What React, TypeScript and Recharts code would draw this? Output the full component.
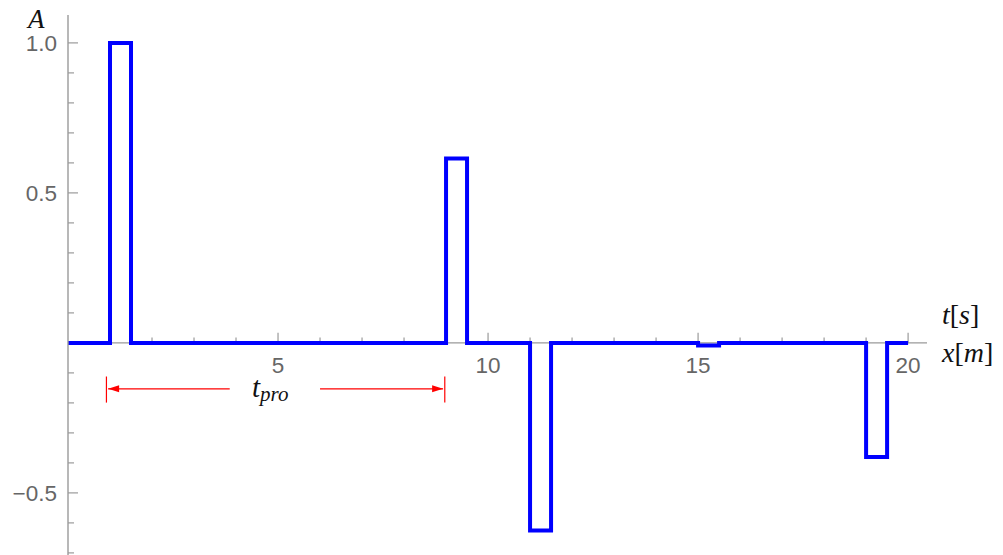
import { LineChart, Line, XAxis, YAxis, ReferenceLine } from "recharts";

// step edges (time in s) and amplitude holding from each edge to the next
const edgeTimes = [0, 1, 1.5, 9, 9.5, 11, 11.5, 15, 15.5, 19, 19.5, 20];
const amplitudes = [0, 1, 0, 0.615, 0, -0.625, 0, -0.009, 0, -0.38, 0, 0];

const yTicks = [-0.7, -0.6, -0.5, -0.4, -0.3, -0.2, -0.1, 0.1, 0.2, 0.3, 0.4, 0.5, 0.6, 0.7, 0.8, 0.9, 1.0];
const yLabels: Record<string, string> = { "1": "1.0", "0.5": "0.5", "-0.5": "\u22120.5" };
const xTicks = [1, 2, 3, 4, 5, 6, 7, 8, 9, 10, 11, 12, 13, 14, 15, 16, 17, 18, 19, 20];
const xMajor = [5, 10, 15, 20];

// t_pro dimension arrow
const proStart = 0.915;
const proEnd = 8.97;
const proGapLeft = 3.85;
const proGapRight = 6.0;
const proY = -0.153;
const proBarTop = -0.112;
const proBarBottom = -0.199;

const data = edgeTimes.map((t, i) => ({ t, a: amplitudes[i] }));

const AXIS = "#9a9a9a";
const LABEL = "#666666";
const BLUE = "#0000ff";
const RED = "#ff0000";
const W = 1003;
const H = 555;
const SANS = "Liberation Sans, Arial, sans-serif";

function YTick(props: any) {
  const { x, y, payload } = props;
  const key = String(Math.round(payload.value * 10) / 10);
  const label = yLabels[key];
  return (
    <g>
      <line x1={x} y1={y} x2={x + (label ? 10 : 6)} y2={y} stroke={AXIS} strokeWidth={1.2} />
      {label && (
        <text x={x - 11} y={y + 8} textAnchor="end" fontSize={22.5} fill={LABEL} fontFamily={SANS}>
          {label}
        </text>
      )}
    </g>
  );
}

function Arrow(props: any) {
  const { x1, y1, x2, y2, head } = props;
  const hx = head === "left" ? Math.min(x1, x2) : Math.max(x1, x2);
  const dir = head === "left" ? 1 : -1;
  const y = (y1 + y2) / 2;
  return (
    <g>
      <line x1={x1} y1={y} x2={x2} y2={y} stroke={RED} strokeWidth={1.2} />
      <polygon points={`${hx},${y} ${hx + dir * 11},${y - 3.5} ${hx + dir * 11},${y + 3.5}`} fill={RED} />
    </g>
  );
}

export default function App() {
  const serif = "Liberation Serif, Times New Roman, serif";
  return (
    <div style={{ position: "absolute", left: 0, top: 0, width: W, height: H, background: "#fff" }}>
      <LineChart width={W} height={H} data={data} margin={{ top: 15, right: 76, bottom: 0, left: 8 }}>
        <XAxis type="number" dataKey="t" domain={[0, 20.45]} allowDataOverflow hide />
        <YAxis
          type="number"
          domain={[-0.707, 1.093]}
          allowDataOverflow
          width={60}
          ticks={yTicks}
          interval={0}
          tickSize={0}
          tickMargin={0}
          tickLine={false}
          axisLine={{ stroke: AXIS, strokeWidth: 1.4 }}
          tick={<YTick />}
        />
        <ReferenceLine y={0} stroke={AXIS} strokeWidth={1.4} />
        {xTicks.map((v) => {
          const major = xMajor.includes(v);
          return (
            <ReferenceLine
              key={v}
              segment={[
                { x: v, y: 0 },
                { x: v, y: major ? 0.034 : 0.018 },
              ]}
              stroke={AXIS}
              strokeWidth={1.2}
              label={
                major
                  ? { value: String(v), position: "bottom", offset: 14, fontSize: 22.5, fill: LABEL, fontFamily: SANS }
                  : undefined
              }
            />
          );
        })}
        <ReferenceLine segment={[{ x: proStart, y: proBarTop }, { x: proStart, y: proBarBottom }]} stroke={RED} strokeWidth={1.2} />
        <ReferenceLine segment={[{ x: proEnd, y: proBarTop }, { x: proEnd, y: proBarBottom }]} stroke={RED} strokeWidth={1.2} />
        <ReferenceLine
          segment={[{ x: proStart + 0.04, y: proY }, { x: proGapLeft, y: proY }]}
          shape={(p: any) => <Arrow {...p} head="left" />}
        />
        <ReferenceLine
          segment={[{ x: proGapRight, y: proY }, { x: proEnd - 0.04, y: proY }]}
          shape={(p: any) => <Arrow {...p} head="right" />}
        />
        <Line
          type="stepAfter"
          dataKey="a"
          stroke={BLUE}
          strokeWidth={4}
          dot={false}
          isAnimationActive={false}
        />
      </LineChart>
      <svg width={W} height={H} style={{ position: "absolute", left: 0, top: 0, pointerEvents: "none" }}>
        <text x={28} y={28} fontSize={27} fontStyle="italic" fontFamily={serif} fill="#111">A</text>
        <text x={942} y={324} fontSize={28} fontFamily={serif} fill="#111">
          <tspan fontStyle="italic">t</tspan>[<tspan fontStyle="italic">s</tspan>]
        </text>
        <text x={942} y={362} fontSize={28} fontFamily={serif} fill="#111">
          <tspan fontStyle="italic">x</tspan>[<tspan fontStyle="italic">m</tspan>]
        </text>
        <text x={252} y={397} fontSize={29} fontStyle="italic" fontFamily={serif} fill="#111">
          t<tspan fontSize={21} dy={4}>pro</tspan>
        </text>
      </svg>
    </div>
  );
}
